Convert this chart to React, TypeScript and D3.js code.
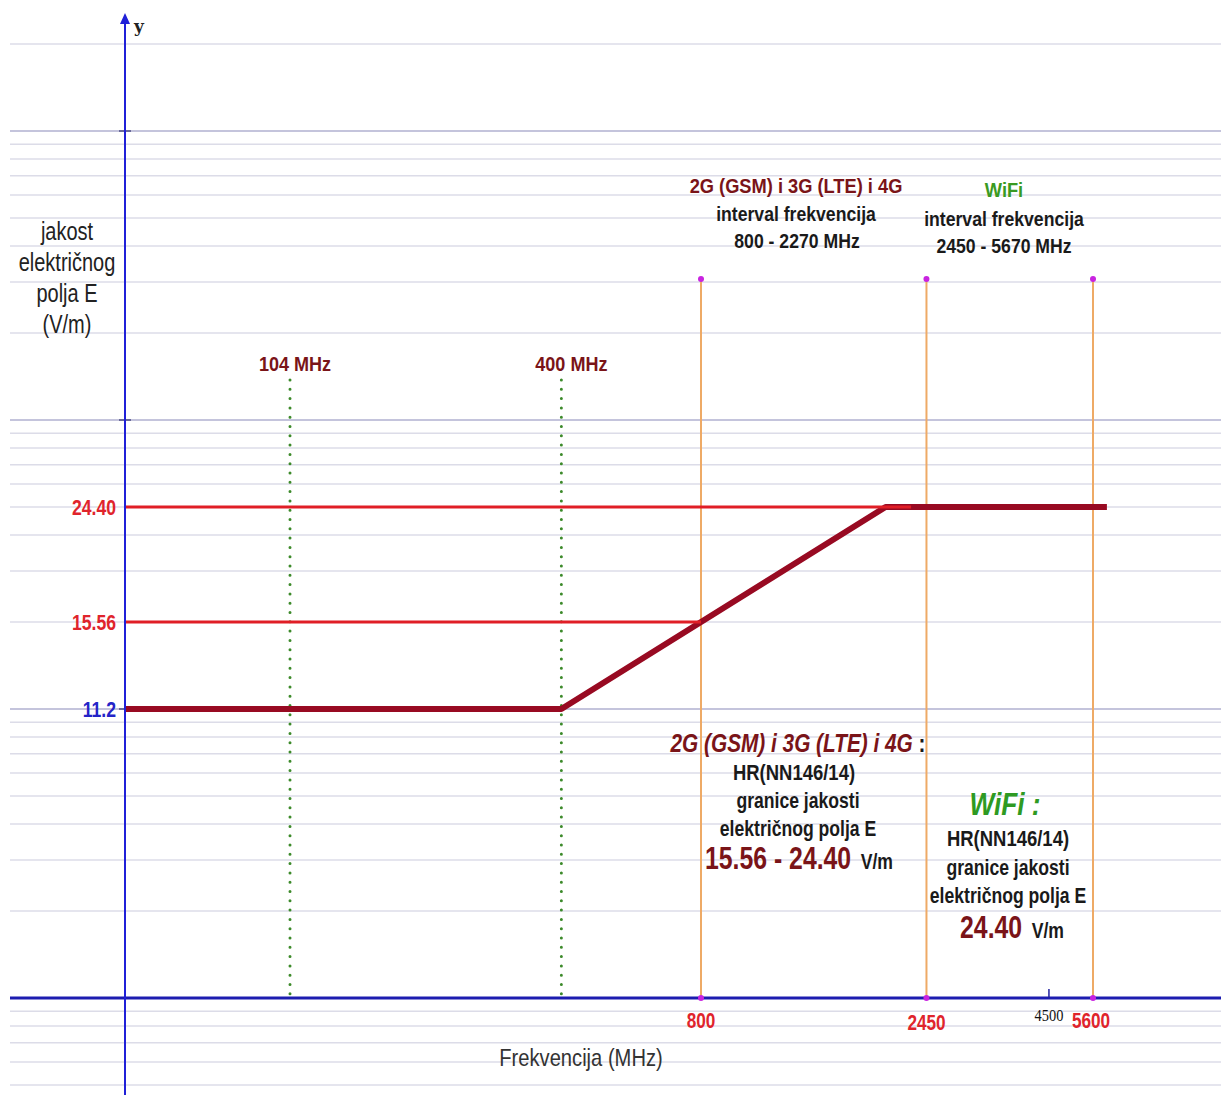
import React from "react";
import * as d3 from "d3";

// ---- data ----
const levelLabels = ["11.2", "15.56", "24.40"];
const levelValues = [11.2, 15.56, 24.4];
const levelColors = ["#2424c8", "#e0242c", "#e0242c"];
// schematic grid position (log grid units) where each E level is drawn
const levelGridPos = [10, 20, 50];

const markerFreqs = [104, 400]; // green dotted markers (MHz)
const markerLabels = ["104  MHz", "400 MHz"];
const bandFreqs = [800, 2450, 5600]; // orange band borders (MHz)
const bandLabels = ["800", "2450", "5600"];
const extraTick = 4500;

// E(f) limit curve: [frequency MHz, E V/m]
const limitCurve: [number, number][] = [
  [0, 11.2],
  [400, 11.2],
  [2000, 24.4],
  [6000, 24.4],
];
const refLines: [number, number][] = [
  [2270, 24.4],
  [800, 15.56],
];

const W = 1221;
const H = 1095;
const AX = 125; // y-axis x
const AY = 998; // x-axis y

const FONT = "'Liberation Sans', Arial, sans-serif";

type NTProps = {
  x: number;
  y: number;
  size: number;
  sx?: number;
  anchor?: "start" | "middle" | "end";
  fill?: string;
  bold?: boolean;
  italic?: boolean;
  children: React.ReactNode;
};
function NText({ x, y, size, sx = 0.82, anchor = "middle", fill = "#1a1a1a", bold = true, italic = false, children }: NTProps) {
  return (
    <text
      transform={`translate(${x},${y}) scale(${sx},1)`}
      textAnchor={anchor}
      fontFamily={FONT}
      fontSize={size}
      fontWeight={bold ? "bold" : "normal"}
      fontStyle={italic ? "italic" : "normal"}
      fill={fill}
    >
      {children}
    </text>
  );
}

export default function App() {
  const x = d3.scaleLog().domain([104, 5600]).range([290, 1093]);
  const grid = d3.scaleLog().domain([1, 1000]).range([AY, 131]);
  const y = d3
    .scaleLinear()
    .domain(levelValues)
    .range(levelGridPos.map((g) => grid(g)));

  const gridVals: number[] = [];
  [0.1, 1, 10, 100, 1000].forEach((d) => {
    for (let k = 1; k <= 9; k++) gridVals.push(d * k);
  });
  const gridLines = gridVals
    .map((v) => ({ v, py: grid(v), major: Math.abs(Math.log10(v) - Math.round(Math.log10(v))) < 1e-9 }))
    .filter((g) => g.py > 10 && g.py < H && Math.abs(g.py - AY) > 1);

  const fx = (f: number) => (f <= 0 ? AX : x(f));
  const line = d3
    .line<[number, number]>()
    .x((d) => fx(d[0]))
    .y((d) => y(d[1]));

  const bandTop = 279;
  const markerTop = 380;
  const markerDx = [5, 10];

  return (
    <div style={{ position: "absolute", left: 0, top: 0 }}>
      <svg width={W} height={H} style={{ display: "block", background: "#fff" }}>
        {/* grid */}
        {gridLines.map((g, i) => (
          <line
            key={i}
            x1={10}
            x2={W}
            y1={g.py}
            y2={g.py}
            stroke={g.major ? "#c4c4dc" : "#dcdce8"}
            strokeWidth={g.major ? 2 : 1.5}
          />
        ))}
        {/* y-axis ticks */}
        {gridLines
          .filter((g) => g.major)
          .map((g, i) => (
            <line key={i} x1={AX - 6} x2={AX + 6} y1={g.py} y2={g.py} stroke="#6a6a9a" strokeWidth={2} />
          ))}

        {/* green dotted markers */}
        {markerFreqs.map((f, i) => (
          <g key={i}>
            <line
              x1={x(f)}
              x2={x(f)}
              y1={markerTop}
              y2={AY}
              stroke="#3c8a2a"
              strokeWidth={3}
              strokeDasharray="0 9.3"
              strokeLinecap="round"
            />
            <NText x={x(f) + markerDx[i]} y={371} size={21} sx={0.86} fill="#7a1418">
              {markerLabels[i]}
            </NText>
          </g>
        ))}

        {/* orange band borders */}
        {bandFreqs.map((f, i) => (
          <g key={i}>
            <line x1={x(f)} x2={x(f)} y1={bandTop} y2={AY} stroke="#eeaa66" strokeWidth={2} />
            <circle cx={x(f)} cy={bandTop} r={3} fill="#c824e0" />
          </g>
        ))}

        {/* limit curve */}
        <path d={line(limitCurve) ?? ""} fill="none" stroke="#980a22" strokeWidth={6} strokeLinejoin="round" />
        {/* reference horizontal lines */}
        {refLines.map((r, i) => (
          <path key={i} d={line([[0, r[1]], r]) ?? ""} fill="none" stroke="#e01e26" strokeWidth={3} />
        ))}

        {/* axes */}
        <line x1={10} x2={W} y1={AY} y2={AY} stroke="#1c1cb0" strokeWidth={3} />
        <line x1={AX} x2={AX} y1={22} y2={H} stroke="#2020d8" strokeWidth={2} />
        <path d={`M${AX},13 L${AX - 5},24 L${AX + 5},24 Z`} fill="#2020d8" />
        <text x={134} y={32} fontFamily="'DejaVu Serif', 'Liberation Serif', serif" fontWeight="bold" fontSize={17} fill="#222">
          y
        </text>

        {/* band purple points on axis */}
        {bandFreqs.map((f, i) => (
          <circle key={i} cx={x(f)} cy={AY} r={3} fill="#c824e0" />
        ))}
        <line x1={x(extraTick)} x2={x(extraTick)} y1={AY - 9} y2={AY} stroke="#2020a0" strokeWidth={1.5} />
        <text
          x={x(extraTick)}
          y={1021}
          textAnchor="middle"
          fontFamily="'Liberation Serif', serif"
          fontSize={16}
          fill="#111"
          transform={`translate(${x(extraTick) * 0.1},0) scale(0.9,1)`}
        >
          {extraTick}
        </text>

        {/* x tick labels */}
        {bandFreqs.map((f, i) => (
          <NText key={i} x={x(f) - (i === 2 ? 2 : 0)} y={i === 1 ? 1030 : 1028} size={22} sx={0.78} fill="#e0242c">
            {bandLabels[i]}
          </NText>
        ))}

        {/* y level labels */}
        {levelValues.map((v, i) => (
          <NText key={i} x={116} y={y(v) + 8} size={22} sx={0.8} anchor="end" fill={levelColors[i]}>
            {levelLabels[i]}
          </NText>
        ))}

        {/* y-axis title */}
        {["jakost", "električnog", "polja E", "(V/m)"].map((t, i) => (
          <NText key={i} x={67} y={240 + i * 31} size={25} sx={0.8} bold={false} fill="#222">
            {t}
          </NText>
        ))}

        {/* x-axis title */}
        <NText x={581} y={1066} size={24} sx={0.84} bold={false} fill="#333">
          Frekvencija (MHz)
        </NText>

        {/* top annotations */}
        <NText x={796} y={193} size={21} sx={0.87} fill="#7a1418">2G (GSM) i 3G (LTE) i 4G</NText>
        <NText x={796} y={221} size={21} sx={0.84}>interval frekvencija</NText>
        <NText x={797} y={248} size={21} sx={0.84}>800 - 2270 MHz</NText>
        <NText x={1004} y={197} size={21} sx={0.87} fill="#3a9a22">WiFi</NText>
        <NText x={1004} y={226} size={21} sx={0.84}>interval frekvencija</NText>
        <NText x={1004} y={253} size={21} sx={0.84}>2450 - 5670 MHz</NText>

        {/* bottom annotations: mobile */}
        <NText x={798} y={752} size={26} sx={0.8}>
          <tspan fill="#7a1418" fontStyle="italic">2G (GSM) i 3G (LTE) i 4G</tspan>
          <tspan fill="#1a1a1a"> :</tspan>
        </NText>
        <NText x={794} y={780} size={22} sx={0.84}>HR(NN146/14)</NText>
        <NText x={798} y={808} size={22} sx={0.8}>granice jakosti</NText>
        <NText x={798} y={836} size={22} sx={0.8}>
          električnog polja E
        </NText>
        <NText x={799} y={869} size={22} sx={0.8}>
          <tspan fill="#7a1418" fontSize={31}>15.56 - 24.40</tspan>
          <tspan fill="#1a1a1a" dx={12}>V/m</tspan>
        </NText>

        {/* bottom annotations: wifi */}
        <NText x={1005} y={815} size={32} sx={0.82} fill="#2e9a22" italic>
          WiFi :
        </NText>
        <NText x={1008} y={846} size={22} sx={0.84}>HR(NN146/14)</NText>
        <NText x={1008} y={875} size={22} sx={0.8}>granice jakosti</NText>
        <NText x={1008} y={903} size={22} sx={0.8}>
          električnog polja E
        </NText>
        <NText x={1012} y={938} size={22} sx={0.8}>
          <tspan fill="#7a1418" fontSize={31}>24.40</tspan>
          <tspan fill="#1a1a1a" dx={12}>V/m</tspan>
        </NText>
      </svg>
    </div>
  );
}
